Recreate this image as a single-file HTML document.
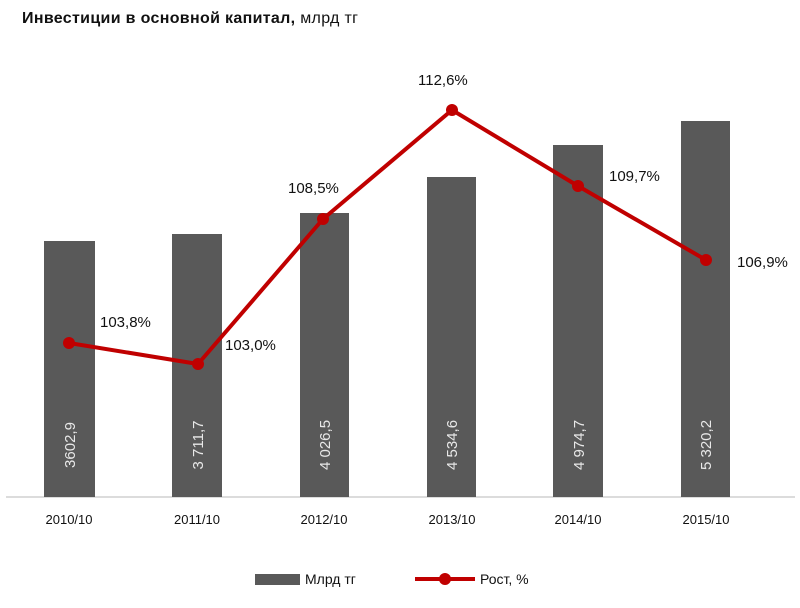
<!DOCTYPE html>
<html><head><meta charset="utf-8"><style>body{margin:0;background:#fff}</style></head><body>
<svg width="800" height="603" xmlns="http://www.w3.org/2000/svg" font-family="Liberation Sans, sans-serif">
<rect width="800" height="603" fill="#fff"/>
<text x="22" y="23" font-size="16" font-weight="bold" fill="#111" textLength="336">Инвестиции  в основной  капитал,  <tspan font-weight="normal">млрд тг</tspan></text>
<line x1="6" y1="497" x2="795" y2="497" stroke="#d0d0d0" stroke-width="1.5"/>
<g fill="#595959">
<rect x="44" y="241" width="51" height="256"/>
<rect x="172" y="234" width="50" height="263"/>
<rect x="300" y="213" width="49" height="284"/>
<rect x="427" y="177" width="49" height="320"/>
<rect x="553" y="145" width="50" height="352"/>
<rect x="681" y="121" width="49" height="376"/>
</g>
<g fill="#e8e8e8" font-size="15" text-anchor="middle">
<text transform="translate(75,445) rotate(-90)">3602,9</text>
<text transform="translate(203,445) rotate(-90)">3 711,7</text>
<text transform="translate(330,445) rotate(-90)">4 026,5</text>
<text transform="translate(457,445) rotate(-90)">4 534,6</text>
<text transform="translate(584,445) rotate(-90)">4 974,7</text>
<text transform="translate(711,445) rotate(-90)">5 320,2</text>
</g>
<g font-size="13" text-anchor="middle" fill="#111">
<text x="69" y="524">2010/10</text><text x="197" y="524">2011/10</text><text x="324" y="524">2012/10</text>
<text x="452" y="524">2013/10</text><text x="578" y="524">2014/10</text><text x="706" y="524">2015/10</text>
</g>
<polyline points="69,343 198,364 323,219 452,110 578,186 706,260" fill="none" stroke="#c00000" stroke-width="4" stroke-linejoin="round"/>
<g fill="#c00000">
<circle cx="69" cy="343" r="6"/><circle cx="198" cy="364" r="6"/><circle cx="323" cy="219" r="6"/>
<circle cx="452" cy="110" r="6"/><circle cx="578" cy="186" r="6"/><circle cx="706" cy="260" r="6"/>
</g>
<g font-size="15" fill="#111">
<text x="100" y="327">103,8%</text>
<text x="225" y="350">103,0%</text>
<text x="288" y="193">108,5%</text>
<text x="418" y="85">112,6%</text>
<text x="609" y="181">109,7%</text>
<text x="737" y="267">106,9%</text>
</g>
<rect x="255" y="574" width="45" height="11" fill="#595959"/>
<text x="305" y="584" font-size="14" fill="#111">Млрд тг</text>
<line x1="415" y1="579" x2="475" y2="579" stroke="#c00000" stroke-width="4"/>
<circle cx="445" cy="579" r="6" fill="#c00000"/>
<text x="480" y="584" font-size="14" fill="#111">Рост, %</text>
</svg>
</body></html>
